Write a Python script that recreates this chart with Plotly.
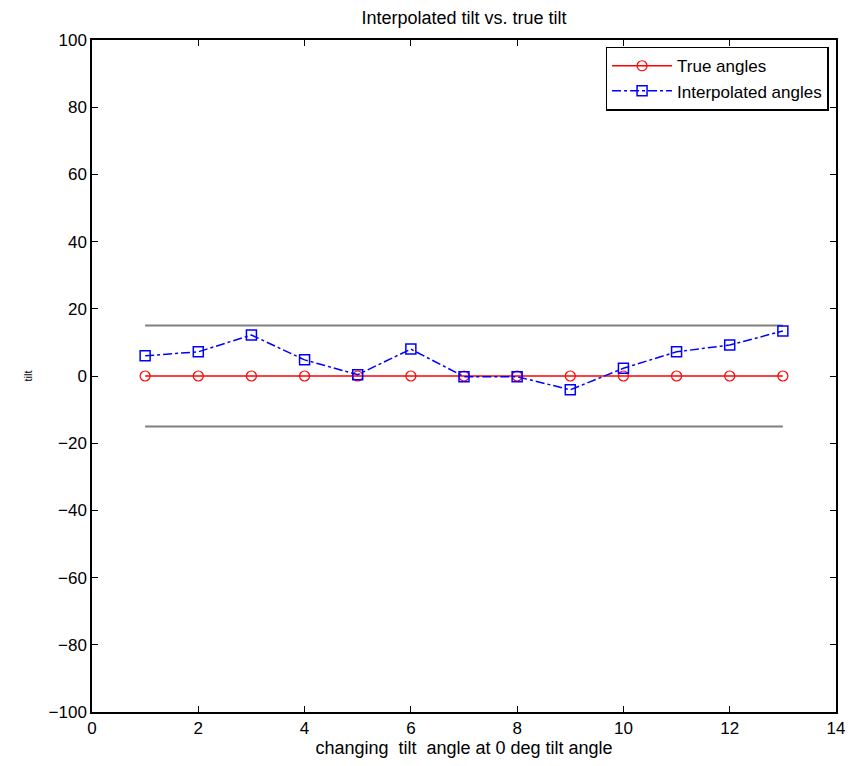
import plotly.graph_objects as go

x_vals = [1, 2, 3, 4, 5, 6, 7, 8, 9, 10, 11, 12, 13]
true_angles = [0, 0, 0, 0, 0, 0, 0, 0, 0, 0, 0, 0, 0]
interp_angles = [6.0, 7.2, 12.2, 4.8, 0.4, 8.0, -0.2, -0.2, -4.1, 2.3, 7.2, 9.2, 13.4]
bound_x = [1, 13]
upper_bound = [15, 15]
lower_bound = [-15, -15]

FONT = "Liberation Sans, Arial"

fig = go.Figure()
fig.add_trace(go.Scatter(x=bound_x, y=upper_bound, mode="lines",
                         line=dict(color="#808080", width=2), showlegend=False, hoverinfo="skip"))
fig.add_trace(go.Scatter(x=bound_x, y=lower_bound, mode="lines",
                         line=dict(color="#808080", width=2), showlegend=False, hoverinfo="skip"))
fig.add_trace(go.Scatter(x=x_vals, y=true_angles, mode="lines+markers", name="True angles",
                         line=dict(color="red", width=1.5),
                         marker=dict(symbol="circle-open", size=10, color="red", line=dict(width=1.2))))
fig.add_trace(go.Scatter(x=x_vals, y=interp_angles, mode="lines+markers", name="Interpolated angles",
                         line=dict(color="blue", width=1.5, dash="dashdot"),
                         marker=dict(symbol="square-open", size=10, color="blue", line=dict(width=1.5))))

axis_common = dict(showline=True, linecolor="black", linewidth=1.5, mirror="ticks",
                   ticks="inside", ticklen=6, tickcolor="black", showgrid=False, zeroline=False,
                   tickfont=dict(family=FONT, size=17, color="black"))

fig.update_layout(
    width=857, height=766,
    paper_bgcolor="white", plot_bgcolor="white",
    margin=dict(l=92, r=20, t=40, b=52),
    title=dict(text="Interpolated tilt vs. true tilt", x=0.5, xanchor="center", y=0.977, yanchor="middle",
               xref="paper",
               font=dict(family=FONT, size=18, color="black")),
    xaxis=dict(range=[0, 14], tickvals=[0, 2, 4, 6, 8, 10, 12, 14],
               title=dict(text="changing  tilt  angle at 0 deg tilt angle", standoff=3,
                          font=dict(family=FONT, size=18, color="black")),
               **axis_common),
    yaxis=dict(range=[-100, 100], tickvals=list(range(-100, 101, 20)),
               title=dict(text="tilt", standoff=14,
                          font=dict(family=FONT, size=11, color="black")),
               **axis_common),
    legend=dict(x=0.99, y=0.99, xanchor="right", yanchor="top",
                bordercolor="black", borderwidth=1.5, bgcolor="white",
                font=dict(family=FONT, size=17, color="black"),
                tracegroupgap=0, itemwidth=60),
    showlegend=True,
)

fig.write_html("out.html")
